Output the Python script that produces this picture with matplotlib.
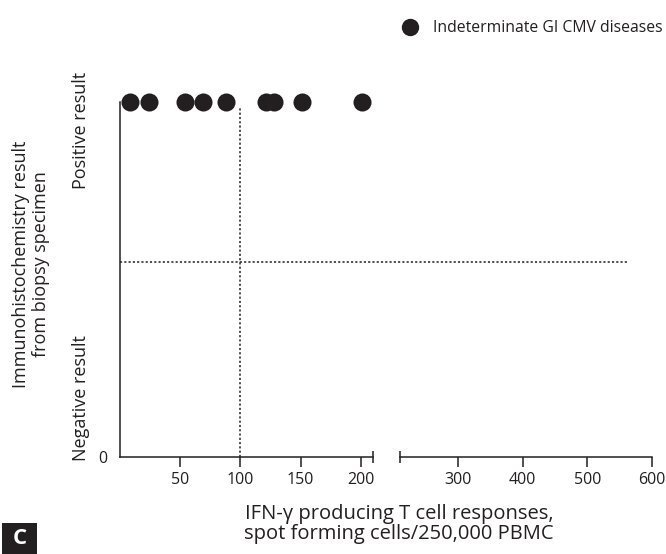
import matplotlib
matplotlib.use("Agg")
import matplotlib.pyplot as plt
from matplotlib.lines import Line2D
from matplotlib.patches import Rectangle
import matplotlib.transforms as mtransforms

plt.rcParams['font.family'] = ['Open Sans', 'DejaVu Sans']

# ---- data ----
ifn_values = [8, 24, 54, 69, 88, 121, 128, 151, 201]
ihc_result = [1, 1, 1, 1, 1, 1, 1, 1, 1]
cutoff_ifn = 100
cutoff_ihc = 0.55
cutoff_ihc_end = 561
xticks_left = [50, 100, 150, 200]
xticks_right = [300, 400, 500, 600]
xlim_left = (0, 210)
xlim_right = (210, 600)
legend_label = "Indeterminate GI CMV diseases"
ylabel_text = "Immunohistochemistry result\nfrom biopsy specimen"
xlabel_text = "IFN-\u03b3 producing T cell responses,\nspot forming cells/250,000 PBMC"
pos_label = "Positive result"
neg_label = "Negative result"
pos_y = 0.92
neg_y = 0.165

INK = '#231f20'
W, H = 666, 554
fig = plt.figure(figsize=(W / 100, H / 100), dpi=100)


def px_axes(l, t, r, b):
    return fig.add_axes([l / W, 1 - b / H, (r - l) / W, (b - t) / H])


ax1 = px_axes(120, 102, 373, 457)
ax2 = px_axes(400, 102, 652, 457)

for ax, lim, ticks in ((ax1, xlim_left, xticks_left), (ax2, xlim_right, xticks_right)):
    ax.set_xlim(*lim)
    ax.set_ylim(0, 1)
    ax.set_xticks(ticks)
    ax.set_xticklabels([str(t) for t in ticks])
    ax.spines['top'].set_visible(False)
    ax.spines['right'].set_visible(False)
    for s in ax.spines.values():
        s.set_color(INK)
        s.set_linewidth(1.1)
    ax.tick_params(axis='x', direction='out', length=7, width=1.1, color=INK,
                   labelsize=11.5, labelcolor=INK, pad=4)
    ax.patch.set_visible(False)

ax2.spines['left'].set_visible(False)
ax2.set_yticks([])
ax1.set_yticks([0])
ax1.set_yticklabels(['0'])
ax1.tick_params(axis='y', length=0, pad=9, labelsize=11.5, labelcolor=INK)

# break caps
ax1.plot([xlim_left[1]], [0], marker='|', markersize=8, mew=1.1, color=INK, clip_on=False)
ax2.plot([xlim_right[0]], [0], marker='|', markersize=8, mew=1.1, color=INK, clip_on=False)

# vertical cut-off line
ax1.plot([cutoff_ifn, cutoff_ifn], [0, 0.985], color=INK, lw=1.1,
         linestyle=(0, (1.4, 1.4)), clip_on=False)

# horizontal cut-off line spanning both panels
fig.canvas.draw()
p0 = ax1.transData.transform((0, cutoff_ihc))
p1 = ax2.transData.transform((cutoff_ihc_end, cutoff_ihc))
inv = fig.transFigure.inverted()
f0 = inv.transform(p0)
f1 = inv.transform(p1)
fig.add_artist(Line2D([f0[0], f1[0]], [f0[1], f1[1]], color=INK, lw=1.1,
                      linestyle=(0, (1.4, 1.4)), transform=fig.transFigure))

# points
pts = ax1.scatter(ifn_values, ihc_result, s=13.0 ** 2, color=INK, zorder=5,
                  clip_on=False, label=legend_label, linewidths=0)

# category labels on y
ytrans = mtransforms.blended_transform_factory(ax1.transAxes, ax1.transData)
ax1.text(-0.153, pos_y, pos_label, rotation=90, ha='center', va='center',
         fontsize=13, color=INK, transform=ytrans)
ax1.text(-0.153, neg_y, neg_label, rotation=90, ha='center', va='center',
         fontsize=13, color=INK, transform=ytrans)

# axis titles
fig.text(31 / W, 1 - 264 / H, ylabel_text, rotation=90, ha='center', va='center',
         fontsize=13, color=INK, linespacing=1.15, multialignment='center')
fig.text(399 / W, 1 - 524 / H, xlabel_text, ha='center', va='center',
         fontsize=14.5, color=INK, linespacing=1.0, multialignment='center')

# legend
handle = Line2D([], [], marker='o', linestyle='none', markersize=11.5,
                markerfacecolor=INK, markeredgecolor=INK)
fig.legend([handle], [legend_label], loc='center left',
           bbox_to_anchor=(402 / W, 1 - 28 / H), frameon=False, borderpad=0,
           borderaxespad=0, handlelength=1.0, handletextpad=1.0,
           prop={'size': 11.3}, labelcolor=INK)

# panel letter
fig.add_artist(Rectangle((2 / W, 0), 35 / W, 31 / H, transform=fig.transFigure,
                         facecolor=INK, edgecolor='none'))
fig.text(19.5 / W, 15.5 / H, 'C', ha='center', va='center', color='white',
         fontsize=16, fontweight='bold')

fig.savefig('out.png', dpi=100)
